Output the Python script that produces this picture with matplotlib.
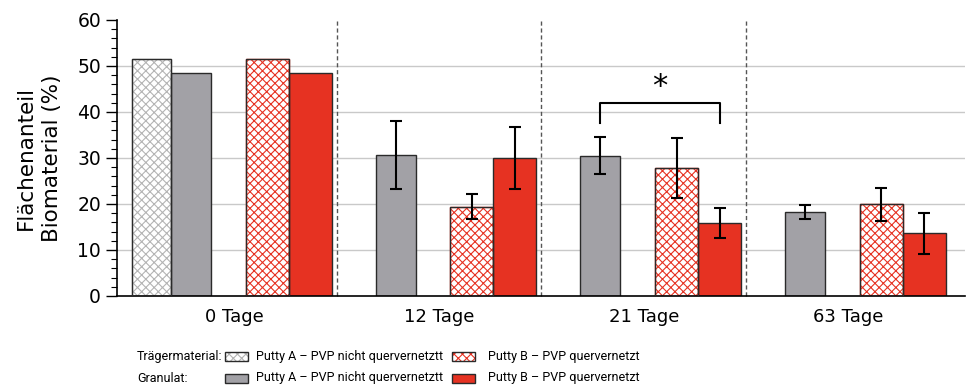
import matplotlib
matplotlib.use("Agg")
import matplotlib.pyplot as plt
from matplotlib.patches import Rectangle
import numpy as np

plt.rcParams['font.family'] = ['DejaVu Sans']
plt.rcParams['hatch.linewidth'] = 0.8

groups = ['0 Tage', '12 Tage', '21 Tage', '63 Tage']

# Trägermaterial (nur Tag 0) und Granulat, jeweils Putty A / Putty B
traeger_a = [51.5, np.nan, np.nan, np.nan]
granulat_a = [48.5, 30.7, 30.5, 18.2]
granulat_a_err = [0, 7.4, 4.0, 1.5]
traeger_b = [51.5, 19.4, 27.9, 19.9]
traeger_b_err = [0, 2.7, 6.5, 3.6]
granulat_b = [48.5, 30.0, 15.9, 13.6]
granulat_b_err = [0, 6.7, 3.2, 4.5]

legend_labels = ['Putty A – PVP nicht quervernetztt', 'Putty B – PVP quervernetzt']

grey = '#a2a1a6'
red = '#e63222'
edge = '#2a2a2a'
legend_font = ['Roboto', 'DejaVu Sans']

fig = plt.figure(figsize=(9.67, 3.92), dpi=100)
ax = fig.add_axes([0.121, 0.245, 0.877, 0.704])

x = np.arange(len(groups))
offsets = [-0.405, -0.212, 0.161, 0.371]
widths = [0.19, 0.195, 0.21, 0.21]

for y in range(10, 60, 10):
    ax.axhline(y, color='#c9c9c9', lw=1, zorder=0)

eb = dict(ecolor='black', elinewidth=1.5, capsize=4, capthick=1.5)

ax.bar(x + offsets[0], traeger_a, widths[0], color='white', edgecolor='#b4b4b4',
       hatch='xxxx', zorder=2)
ax.bar(x + offsets[0], traeger_a, widths[0], color='none', edgecolor=edge, lw=1, zorder=3)

ga_err = [e if e else np.nan for e in granulat_a_err]
ax.bar(x + offsets[1], granulat_a, widths[1], color=grey, edgecolor=edge, lw=1, zorder=2)
ax.errorbar(x + offsets[1], granulat_a, yerr=ga_err, fmt='none', zorder=4, **eb)

tb_err = [e if e else np.nan for e in traeger_b_err]
ax.bar(x + offsets[2], traeger_b, widths[2], color='white', edgecolor=red,
       hatch='xxxx', zorder=2)
ax.bar(x + offsets[2], traeger_b, widths[2], color='none', edgecolor=edge, lw=1, zorder=3)
ax.errorbar(x + offsets[2], traeger_b, yerr=tb_err, fmt='none', zorder=4, **eb)

gb_err = [e if e else np.nan for e in granulat_b_err]
ax.bar(x + offsets[3], granulat_b, widths[3], color=red, edgecolor=edge, lw=1, zorder=2)
ax.errorbar(x + offsets[3], granulat_b, yerr=gb_err, fmt='none', zorder=4, **eb)

# Trennlinien zwischen den Zeitpunkten
for xv in x[:-1] + 0.5:
    ax.plot([xv, xv], [0, 60], color='#555555', lw=1, ls=(0, (3, 2)), zorder=1,
            clip_on=False)

# Signifikanzklammer Tag 21
x1 = x[2] + offsets[1]
x2 = x[2] + offsets[3]
ax.plot([x1, x1, x2, x2], [37.6, 42, 42, 37.6], color='black', lw=1.5, zorder=5)
ax.text((x1 + x2) / 2, 42.3, '*', ha='center', va='bottom', fontsize=22)

ax.set_xlim(-0.573, 3.57)
ax.set_ylim(0, 60)
ax.set_xticks(x)
ax.set_xticklabels(groups, fontsize=13)
ax.tick_params(axis='x', length=0, pad=9)
ax.set_yticks(range(0, 61, 10))
ax.set_yticks(range(0, 61, 2), minor=True)
ax.tick_params(axis='y', which='major', length=8, width=1, labelsize=13.5)
ax.tick_params(axis='y', which='minor', length=4, width=0.8)
for s in ['top', 'right']:
    ax.spines[s].set_visible(False)
ax.spines['left'].set_linewidth(1.2)
ax.spines['bottom'].set_linewidth(1.2)
ax.set_ylabel('Flächenanteil\nBiomaterial (%)', fontsize=15.5, labelpad=11,
              linespacing=1.4)

# Legende
W, H = 967.0, 392.0
rows = [('Trägermaterial:', 356.5, [('white', '#b4b4b4', 'xxxx'), ('white', red, 'xxxx')]),
        ('Granulat:', 378.0, [(grey, None, None), (red, None, None)])]
patch_x = [225, 452]
text_x = [256, 488]
for head, yc, styles in rows:
    yf = 1 - yc / H
    fig.text(137 / W, yf, head, fontsize=9, va='center', ha='left', family=legend_font)
    for px, tx, (fc, hc, hatch), lab in zip(patch_x, text_x, styles, legend_labels):
        if hatch:
            fig.patches.append(Rectangle((px / W, yf - 4.5 / H), 23 / W, 9 / H,
                                         transform=fig.transFigure, facecolor=fc,
                                         edgecolor=hc, hatch=hatch, lw=0))
            fig.patches.append(Rectangle((px / W, yf - 4.5 / H), 23 / W, 9 / H,
                                         transform=fig.transFigure, facecolor='none',
                                         edgecolor=edge, lw=1))
        else:
            fig.patches.append(Rectangle((px / W, yf - 4.5 / H), 23 / W, 9 / H,
                                         transform=fig.transFigure, facecolor=fc,
                                         edgecolor=edge, lw=1))
        fig.text(tx / W, yf, lab, fontsize=9, va='center', ha='left', family=legend_font)

fig.savefig('out.png', dpi=100)
